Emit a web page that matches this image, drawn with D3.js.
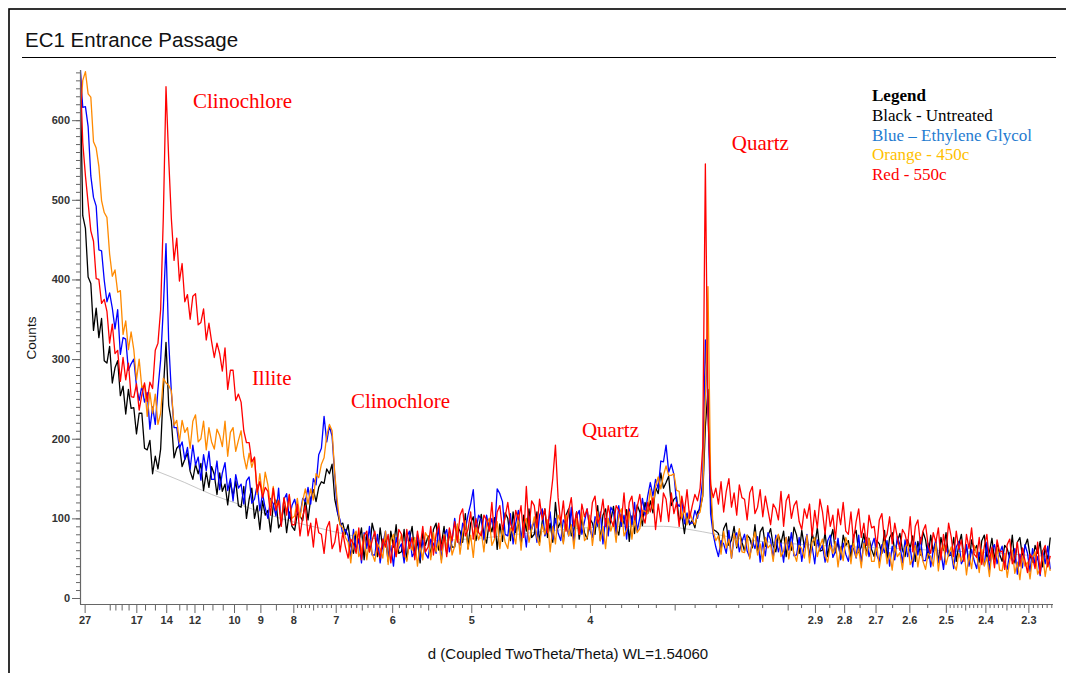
<!DOCTYPE html>
<html>
<head>
<meta charset="utf-8">
<script src="https://cdn.jsdelivr.net/npm/d3@7"></script>
<style>
  body { margin: 0; background: #fff; }
  svg { display: block; }
</style>
</head>
<body>
<svg id="chart" width="1066" height="673"></svg>
<script>
// Cu K-alpha wavelength (Angstrom) and scan stepping in degrees 2-theta
const WAVELENGTH = 1.5406;
const twoThetaStart = 3.1;
const twoThetaStep = 0.1;

// Counts per step, 3.1 - 40.0 deg 2-theta (one row = 1 degree)
const untreated = [
  670,480,464,403,395,336,364,327,351,298,
  295,316,270,289,298,254,266,231,262,238,
  239,206,232,232,188,186,198,156,178,162,
  187,261,321,242,222,176,188,192,165,174,
  182,159,149,168,156,169,135,158,139,165,
  155,130,157,134,143,117,146,128,147,116,
  114,140,100,124,138,100,116,86,122,104,
  110,83,116,123,88,95,116,82,108,90,
  85,106,103,97,125,98,125,136,121,139,
  146,144,162,156,168,124,108,92,94,80,
  92,66,56,82,70,88,48,80,58,94,
  80,52,88,62,76,46,84,64,92,56,
  58,86,48,74,90,54,72,44,82,66,
  78,52,86,94,60,68,90,56,82,64,
  64,90,84,70,106,62,94,102,72,88,
  105,79,69,95,83,101,61,93,71,107,
  100,72,108,82,96,66,104,84,112,76,
  80,108,70,96,112,76,94,70,120,88,
  96,70,104,112,78,86,108,74,100,82,
  74,100,94,80,116,72,104,112,82,98,
  115,89,79,105,93,111,71,103,81,117,
  108,91,120,106,122,107,139,131,157,138,
  145,153,116,124,127,96,105,81,105,92,
  98,88,108,112,128,215,262,126,86,84,
  81,60,87,94,66,73,90,63,84,70,
  59,79,75,63,92,57,83,89,65,78,
  87,66,58,79,69,84,52,77,60,89,
  79,56,85,64,75,51,82,66,88,59,
  60,82,52,73,86,57,71,49,79,66,
  72,51,78,85,57,64,81,54,75,61,
  52,72,68,56,85,50,76,82,58,71,
  81,60,52,73,63,78,46,71,54,83,
  73,50,79,58,69,45,76,60,82,53,
  54,76,46,67,80,51,65,43,73,60,
  66,45,72,79,51,58,75,48,69,55,
  46,66,62,50,79,44,70,76,52,65,
  74,53,45,66,56,71,39,64,47,76
];

const glycol = [
  670,616,617,592,530,503,492,437,436,399,
  372,383,364,338,362,306,327,325,286,294,
  300,266,248,266,246,258,212,240,218,262,
  299,364,445,322,258,214,214,188,196,174,
  189,162,192,167,177,148,180,160,184,149,
  149,172,136,157,170,135,150,122,155,138,
  143,118,147,152,119,124,142,110,131,113,
  100,125,118,103,138,93,124,131,100,116,
  124,108,104,125,121,139,118,150,142,180,
  188,228,196,216,203,154,108,98,80,86,
  78,50,86,60,74,44,82,62,90,54,
  54,80,44,68,84,50,66,40,76,62,
  68,44,76,84,52,58,80,48,72,56,
  50,74,68,56,90,48,78,86,58,72,
  100,74,66,94,86,104,118,136,84,104,
  98,73,104,85,100,82,137,131,121,80,
  78,106,68,94,110,74,92,64,102,86,
  96,70,104,112,78,86,108,74,100,82,
  72,98,92,78,114,70,102,110,80,96,
  112,86,76,102,90,108,68,100,78,114,
  108,80,116,90,104,74,112,92,120,84,
  101,125,104,128,145,128,149,137,172,171,
  192,158,168,155,120,115,123,93,107,94,
  94,110,100,118,150,324,240,106,80,64,
  52,72,68,56,85,50,76,82,58,71,
  80,59,51,72,62,77,45,70,53,82,
  73,50,79,58,69,45,76,60,82,53,
  54,76,46,67,80,51,65,43,73,60,
  66,45,72,79,51,58,75,48,69,55,
  46,66,62,50,79,44,70,76,52,65,
  75,54,46,67,57,72,40,65,48,77,
  67,44,73,52,63,39,70,54,76,47,
  47,69,39,60,73,44,58,36,66,53,
  58,37,64,71,43,50,67,40,61,47,
  37,57,53,41,70,35,61,67,43,56,
  65,44,36,57,47,62,30,55,38,67,
  56,33,62,41,52,28,59,43,65,36
];

const heated450 = [
  601,650,661,633,629,573,565,542,499,484,
  478,432,404,412,384,386,331,348,312,334,
  312,274,300,264,268,228,258,232,256,218,
  232,276,270,267,260,217,223,196,223,208,
  214,188,222,230,196,200,222,186,214,196,
  187,212,204,190,222,178,208,214,184,198,
  210,178,162,182,164,176,130,156,128,158,
  142,115,140,115,123,96,125,108,129,100,
  103,125,101,122,137,118,137,123,156,151,
  168,176,204,218,210,156,120,92,88,76,
  70,44,78,84,52,60,80,48,74,56,
  46,68,62,50,84,42,72,80,52,66,
  80,56,46,70,60,76,40,68,48,82,
  76,48,82,58,72,44,80,60,86,54,
  65,93,55,81,97,61,79,51,89,73,
  84,58,92,100,66,74,96,62,88,70,
  62,88,82,68,104,60,92,100,70,86,
  102,76,66,92,80,98,58,90,68,104,
  96,68,104,78,92,62,100,80,108,72,
  76,104,66,92,108,72,90,62,100,84,
  96,70,104,112,78,86,108,74,100,82,
  87,110,109,106,137,112,140,152,137,154,
  166,154,154,156,135,134,100,113,92,109,
  98,92,104,108,130,250,391,150,84,72,
  78,55,84,63,74,50,81,65,87,58,
  57,79,49,70,83,54,68,46,76,63,
  67,46,73,80,52,59,76,49,70,56,
  46,66,62,50,79,44,70,76,52,65,
  74,53,45,66,56,71,39,64,47,76,
  66,43,72,51,62,38,69,53,75,46,
  46,68,38,59,72,43,57,35,65,52,
  57,36,63,70,42,49,66,39,60,46,
  36,56,52,40,69,34,60,66,42,55,
  64,43,35,56,46,61,29,54,37,66,
  55,32,61,40,51,27,58,42,64,35,
  34,56,26,47,60,31,45,23,53,40,
  45,24,51,58,30,37,54,27,48,34
];

const heated550 = [
  670,572,530,496,461,448,401,400,370,375,
  360,320,344,307,311,272,302,274,295,253,
  252,269,236,255,270,247,271,263,311,320,
  362,478,642,552,476,424,452,398,420,372,
  381,350,379,382,343,346,363,324,345,322,
  302,320,307,285,314,262,286,286,248,256,
  246,210,195,195,171,177,133,146,126,139,
  134,104,138,110,122,90,126,104,130,92,
  92,118,78,102,116,78,94,64,100,82,
  80,56,88,96,62,70,92,58,82,64,
  50,74,68,56,88,48,78,84,58,72,
  84,60,50,74,64,80,44,72,52,86,
  80,52,86,62,76,48,84,64,90,58,
  64,90,54,80,94,60,78,52,88,72,
  96,70,104,112,78,86,108,74,100,82,
  78,104,98,84,120,76,108,116,86,102,
  120,94,84,110,98,116,76,140,86,122,
  116,88,124,98,112,82,120,150,192,126,
  94,122,84,110,126,90,108,80,118,102,
  112,86,120,128,94,102,124,90,116,98,
  90,116,110,96,132,88,120,128,98,114,
  130,104,94,120,108,126,86,118,96,132,
  124,96,132,106,120,90,128,108,136,100,
  116,130,122,138,190,545,230,142,126,138,
  118,146,108,134,150,114,132,104,142,126,
  124,98,132,140,106,114,136,102,128,110,
  92,118,112,98,134,90,122,130,100,116,
  122,96,86,112,100,118,78,110,88,124,
  108,80,116,90,104,74,112,92,120,84,
  80,108,70,96,112,76,94,66,104,88,
  90,64,98,106,72,80,102,68,94,76,
  60,86,80,66,102,58,90,98,68,84,
  92,66,56,82,70,88,48,80,58,94,
  77,52,84,61,73,46,80,62,88,55,
  51,76,42,65,80,47,64,38,73,58,
  59,36,67,74,43,50,70,40,63,47,
  32,55,50,37,70,30,59,66,39,53
];

// Fitted background of the untreated scan
const backgroundTwoTheta = [5.9, 7, 8, 9, 10, 11, 12, 13, 14, 16, 18, 20, 22, 24, 25, 26, 27, 28, 30, 34, 38, 40];
const backgroundCounts   = [160, 145, 130, 118, 106, 96, 88, 80, 75, 72, 75, 82, 88, 90, 90, 86, 80, 74, 68, 62, 56, 52];

// d-spacing ticks (Angstrom)
const dLabelled = [27, 17, 14, 12, 10, 9, 8, 7, 6, 5, 4, 2.9, 2.8, 2.7, 2.6, 2.5, 2.4, 2.3];
const dMedium = [21, 20, 19, 18, 16, 15, 13, 12.5, 11.5, 11, 10.5, 9.5, 8.5, 7.5, 6.5, 5.5, 4.5, 3.5, 3.0, 2.45, 2.35];
const dMinor = [
  7.9, 7.8, 7.7, 7.6, 7.4, 7.3, 7.2, 7.1,
  6.9, 6.8, 6.7, 6.6, 6.4, 6.3, 6.2, 6.1,
  5.9, 5.8, 5.7, 5.6, 5.4, 5.3, 5.2, 5.1,
  4.9, 4.8, 4.7, 4.6, 4.4, 4.3, 4.2, 4.1,
  3.9, 3.8, 3.7, 3.6, 3.4, 3.3, 3.2, 3.1,
  2.95, 2.85, 2.75, 2.65, 2.55,
  2.49, 2.48, 2.47, 2.46, 2.44, 2.43, 2.42, 2.41,
  2.39, 2.38, 2.37, 2.36, 2.34, 2.33, 2.32, 2.31,
  2.29, 2.28, 2.27, 2.26, 2.25
];
const countTicks = [0, 100, 200, 300, 400, 500, 600];

const seriesNames  = ["Untreated", "Ethylene Glycol", "450c", "550c"];
const seriesColors = ["#000000", "#0000ff", "#ff8a00", "#ff0000"];

const legendTitle  = "Legend";
const legendLabels = ["Black - Untreated", "Blue \u2013 Ethylene Glycol", "Orange - 450c", "Red - 550c"];
const legendColors = ["#000000", "#1f7bd0", "#ffbf00", "#ff0000"];

// Mineral labels anchored in (d-spacing, counts)
const peakLabels = ["Clinochlore", "Illite", "Clinochlore", "Quartz", "Quartz"];
const peakLabelD = [12.09, 9.30, 6.70, 4.055, 3.228];
const peakLabelCounts = [615, 268, 238, 202, 562];

// ---------------------------------------------------------------
const svg = d3.select("#chart");
const plot = { left: 80, right: 1052, top: 70, zero: 598, axisY: 604 };

// The d axis is linear in 1/d
const invD = d => 1 / d;
const qFromTwoTheta = tt => 2 * Math.sin((tt / 2) * Math.PI / 180) / WAVELENGTH;

const x = d3.scaleLinear().domain([1 / 28.5, 1 / 2.2485]).range([plot.left, plot.right]);
const y = d3.scaleLinear().domain([0, 663]).range([plot.zero, plot.top]);

// Frame, title, rule
svg.append("rect")
  .attr("x", 9).attr("y", 9).attr("width", 1100).attr("height", 700)
  .attr("fill", "none").attr("stroke", "#000").attr("stroke-width", 1.6);

svg.append("text")
  .attr("x", 25).attr("y", 47)
  .attr("font-family", "Liberation Sans, Arial, sans-serif")
  .attr("font-size", 20.5)
  .attr("fill", "#111")
  .text("EC1 Entrance Passage");

svg.append("line")
  .attr("x1", 22).attr("x2", 1056).attr("y1", 57.5).attr("y2", 57.5)
  .attr("stroke", "#000").attr("stroke-width", 1);

// Clip
svg.append("clipPath").attr("id", "plotClip")
  .append("rect")
  .attr("x", plot.left).attr("y", plot.top)
  .attr("width", plot.right - plot.left + 2).attr("height", plot.axisY - plot.top);

const gPlot = svg.append("g").attr("clip-path", "url(#plotClip)");

// Background fit
const bgLine = d3.line()
  .x((tt) => x(qFromTwoTheta(tt)))
  .y((tt, i) => y(backgroundCounts[i]))
  .curve(d3.curveMonotoneX);
gPlot.append("path")
  .attr("d", bgLine(backgroundTwoTheta))
  .attr("fill", "none").attr("stroke", "#b8b8b8").attr("stroke-width", 0.8);

// Scans
const scans = [untreated, glycol, heated450, heated550];
const scanLine = d3.line()
  .x((v, i) => x(qFromTwoTheta(twoThetaStart + twoThetaStep * i)))
  .y(v => y(v));

scans.forEach((values, k) => {
  gPlot.append("path")
    .attr("class", "scan " + seriesNames[k])
    .attr("d", scanLine(values))
    .attr("fill", "none")
    .attr("stroke", seriesColors[k])
    .attr("stroke-width", 1.3)
    .attr("stroke-linejoin", "round");
});

// Axes
const axisColor = "#666";
const tickFont = "Liberation Sans, Arial, sans-serif";
const fmtD = q => String(+(1 / q).toFixed(2));

function styleAxis(g) {
  g.select(".domain").remove();
  g.selectAll(".tick line").attr("stroke", axisColor).attr("stroke-width", 1);
  g.selectAll(".tick text")
    .attr("font-family", tickFont).attr("font-size", 11)
    .attr("font-weight", "bold").attr("fill", "#333");
}

// x axis
const xAxisG = svg.append("g").attr("transform", `translate(0,${plot.axisY})`);
xAxisG.append("g")
  .call(d3.axisBottom(x).tickValues(dMinor.map(invD)).tickSize(4).tickFormat(""))
  .call(styleAxis);
xAxisG.append("g")
  .call(d3.axisBottom(x).tickValues(dMedium.map(invD)).tickSize(6.5).tickFormat(""))
  .call(styleAxis);
xAxisG.append("g")
  .call(d3.axisBottom(x).tickValues(dLabelled.map(invD)).tickSize(9).tickPadding(3).tickFormat(fmtD))
  .call(styleAxis);
xAxisG.append("line")
  .attr("x1", plot.left).attr("x2", plot.right + 1).attr("y1", 0.5).attr("y2", 0.5)
  .attr("stroke", axisColor).attr("stroke-width", 1.2);

// y axis
const yAxisG = svg.append("g").attr("transform", `translate(${plot.left},0)`);
yAxisG.append("g")
  .call(d3.axisLeft(y).tickValues(d3.range(0, 661, 10)).tickSize(4).tickFormat(""))
  .call(styleAxis);
yAxisG.append("g")
  .call(d3.axisLeft(y).tickValues(countTicks).tickSize(8).tickPadding(2).tickFormat(d3.format("d")))
  .call(styleAxis);
yAxisG.append("line")
  .attr("x1", 0.5).attr("x2", 0.5).attr("y1", plot.top).attr("y2", plot.axisY)
  .attr("stroke", axisColor).attr("stroke-width", 1.2);

// Axis titles
svg.append("text")
  .attr("transform", `translate(36,338) rotate(-90)`)
  .attr("text-anchor", "middle")
  .attr("font-family", tickFont).attr("font-size", 13.5).attr("fill", "#111")
  .text("Counts");

svg.append("text")
  .attr("x", 568).attr("y", 659)
  .attr("text-anchor", "middle")
  .attr("font-family", tickFont).attr("font-size", 15).attr("fill", "#111")
  .text("d (Coupled TwoTheta/Theta) WL=1.54060");

// Peak labels
svg.append("g").selectAll("text")
  .data(peakLabels)
  .join("text")
  .attr("x", (t, i) => x(invD(peakLabelD[i])))
  .attr("y", (t, i) => y(peakLabelCounts[i]))
  .attr("font-family", "Liberation Serif, Times New Roman, serif")
  .attr("font-size", 21)
  .attr("fill", "#ff0000")
  .text(t => t);

// Legend
const legendG = svg.append("g").attr("transform", "translate(872,101)")
  .attr("font-family", "Liberation Serif, Times New Roman, serif")
  .attr("font-size", 17);
legendG.append("text").attr("font-weight", "bold").attr("fill", "#000").text(legendTitle);
legendG.selectAll("text.entry")
  .data(legendLabels)
  .join("text")
  .attr("class", "entry")
  .attr("y", (t, i) => 19.8 * (i + 1))
  .attr("fill", (t, i) => legendColors[i])
  .text(t => t);
</script>
</body>
</html>
